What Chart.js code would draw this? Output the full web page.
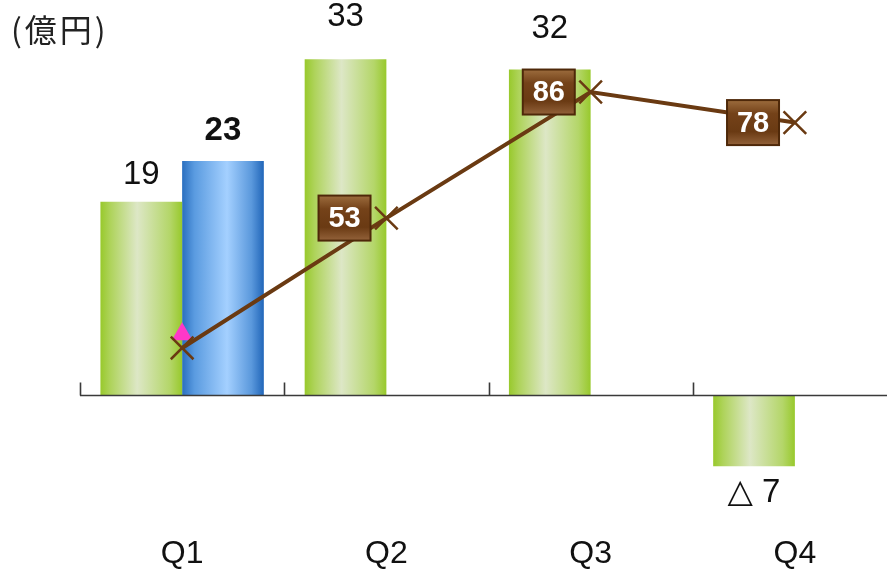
<!DOCTYPE html>
<html>
<head>
<meta charset="utf-8">
<script src="https://cdn.jsdelivr.net/npm/chart.js@4/dist/chart.umd.min.js"></script>
<style>
  html, body { margin: 0; padding: 0; background: #fff; overflow: hidden; }
  #wrap { position: relative; width: 887px; height: 572px; overflow: hidden; }
  #unit { position: absolute; left: 11px; top: 5px; font: 32px "Noto Sans CJK JP", "DejaVu Sans", sans-serif; color: #222; letter-spacing: 3px; }
  canvas { display: block; }
</style>
</head>
<body>
<div id="wrap">
  <canvas id="c" width="897" height="572"></canvas>
  <div id="unit">(億円)</div>
</div>
<script>
// Quarterly figures (億円) and the ratio line
const categories = ['Q1', 'Q2', 'Q3', 'Q4'];
const profitGreen = [19, 33, 32, -7];
const profitBlue = [23, null, null, null];
const ratioLine = [19, 53, 86, 78];
const ratioMarker = [22.6, null, null, null];
const ratioLabelShown = [false, true, true, true];

const FONT = '"Liberation Sans", Arial, "DejaVu Sans", sans-serif';
const GROUP_FRACTION = 0.8;

function fmt(v) {
  return v < 0 ? '\u25B3 ' + Math.abs(v) : String(v);
}

// Horizontal gradient across one bar slot (left slot = green, right slot = blue)
function slotGradient(context, slot, stops) {
  const chart = context.chart;
  const x = chart.scales.x;
  if (!chart.chartArea || !x) return stops[0][1];
  const catW = x.width / categories.length;
  const w = catW * GROUP_FRACTION / 2;
  const c = x.getPixelForValue(context.dataIndex);
  const x0 = slot === 0 ? c - w : c;
  const g = chart.ctx.createLinearGradient(x0, 0, x0 + w, 0);
  stops.forEach(s => g.addColorStop(s[0], s[1]));
  return g;
}

const greenStops = [[0, '#98c92c'], [0.12, '#aed35a'], [0.45, '#dde7c6'], [0.85, '#b4d669'], [1, '#98c92c']];
const blueStops = [[0, '#2a6fc0'], [0.15, '#5a9be0'], [0.55, '#a4d0ff'], [0.85, '#5a98dc'], [1, '#2166b9']];

// Baseline at zero with upward ticks at the category boundaries
const baselinePlugin = {
  id: 'baseline',
  afterDatasetsDraw(chart) {
    const { ctx, chartArea, scales } = chart;
    const y0 = Math.round(scales.y.getPixelForValue(0)) + 0.5;
    const catW = scales.x.width / categories.length;
    ctx.save();
    ctx.strokeStyle = '#3a3a3a';
    ctx.lineWidth = 1.6;
    ctx.beginPath();
    ctx.moveTo(chartArea.left, y0);
    ctx.lineTo(chartArea.right, y0);
    for (let i = 0; i < categories.length; i++) {
      const bx = Math.round(scales.x.getPixelForValue(i) - catW / 2) + 0.5;
      ctx.moveTo(bx, y0);
      ctx.lineTo(bx, y0 - 13);
    }
    ctx.stroke();
    ctx.restore();
  }
};

// Value labels above / below the bars
const barLabelPlugin = {
  id: 'barLabels',
  afterDatasetsDraw(chart, args, opts) {
    const { ctx } = chart;
    ctx.save();
    ctx.textAlign = 'center';
    ctx.textBaseline = 'middle';
    ctx.fillStyle = '#111';
    opts.sets.forEach(set => {
      const meta = chart.getDatasetMeta(set.index);
      const data = chart.data.datasets[set.index].data;
      meta.data.forEach((bar, i) => {
        const v = data[i];
        if (v === null || v === undefined) return;
        ctx.font = (set.bold ? 'bold ' : '') + '33px ' + FONT;
        const gap = set.gaps[i];
        const ty = v >= 0 ? bar.y - gap : bar.y + gap;
        ctx.fillText(fmt(v), bar.x, ty);
      });
    });
    ctx.restore();
  }
};

// Brown tag boxes beside the ratio points
const lineLabelPlugin = {
  id: 'lineLabels',
  afterDatasetsDraw(chart) {
    const { ctx } = chart;
    const meta = chart.getDatasetMeta(3);
    const catW = chart.scales.x.width / categories.length;
    const shift = catW * GROUP_FRACTION / 4;
    const bw = 52, bh = 45;
    ctx.save();
    meta.data.forEach((pt, i) => {
      if (!ratioLabelShown[i]) return;
      const cx = pt.x - shift - 1, cy = pt.y;
      const x0 = cx - bw / 2, y0 = cy - bh / 2;
      const g = ctx.createLinearGradient(0, y0, 0, y0 + bh);
      g.addColorStop(0, '#9c6c3d');
      g.addColorStop(0.3, '#744219');
      g.addColorStop(0.7, '#6a3a13');
      g.addColorStop(1, '#93623a');
      ctx.fillStyle = g;
      ctx.fillRect(x0, y0, bw, bh);
      ctx.strokeStyle = '#4e2809';
      ctx.lineWidth = 2;
      ctx.strokeRect(x0, y0, bw, bh);
      ctx.fillStyle = '#ffffff';
      ctx.font = 'bold 29px ' + FONT;
      ctx.textAlign = 'center';
      ctx.textBaseline = 'middle';
      ctx.fillText(String(ratioLine[i]), cx, cy + 1);
    });
    ctx.restore();
  }
};

new Chart(document.getElementById('c'), {
  type: 'bar',
  data: {
    labels: categories,
    datasets: [
      {
        label: 'green',
        data: profitGreen,
        yAxisID: 'y',
        order: 3,
        backgroundColor: ctx => slotGradient(ctx, 0, greenStops),
        borderWidth: 0,
        barPercentage: 1,
        categoryPercentage: GROUP_FRACTION
      },
      {
        label: 'blue',
        data: profitBlue,
        yAxisID: 'y',
        order: 3,
        backgroundColor: ctx => slotGradient(ctx, 1, blueStops),
        borderWidth: 0,
        barPercentage: 1,
        categoryPercentage: GROUP_FRACTION
      },
      {
        type: 'line',
        label: 'marker',
        data: ratioMarker,
        yAxisID: 'y2',
        order: 2,
        showLine: false,
        pointStyle: 'triangle',
        pointRadius: 12,
        pointBackgroundColor: '#ff38c8',
        pointBorderColor: '#ff38c8',
        pointBorderWidth: 0
      },
      {
        type: 'line',
        label: 'ratio',
        data: ratioLine,
        yAxisID: 'y2',
        order: 1,
        borderColor: '#6a3a12',
        borderWidth: 4,
        tension: 0,
        pointStyle: 'crossRot',
        pointRadius: 16,
        pointBorderColor: '#6a3a12',
        pointBorderWidth: 2.5,
        pointBackgroundColor: '#6a3a12'
      }
    ]
  },
  options: {
    responsive: false,
    animation: false,
    events: [],
    layout: { autoPadding: false, padding: { top: 8, left: 80, right: 0, bottom: 0 } },
    plugins: {
      legend: { display: false },
      tooltip: { enabled: false },
      barLabels: {
        sets: [
          { index: 0, bold: false, gaps: [27, 42, 41, 27] },
          { index: 1, bold: true, gaps: [30, 30, 30, 30] }
        ]
      }
    },
    scales: {
      x: {
        position: 'bottom',
        grid: { display: false, drawTicks: false },
        border: { display: false },
        ticks: { color: '#111', font: { size: 32, family: FONT }, padding: 18 },
        afterFit(scale) { scale.height = 55; }
      },
      y: {
        display: false,
        min: -12,
        max: 38.05
      },
      y2: {
        display: false,
        min: -25.26,
        max: 108.0
      }
    }
  },
  plugins: [baselinePlugin, barLabelPlugin, lineLabelPlugin]
});
</script>
</body>
</html>
